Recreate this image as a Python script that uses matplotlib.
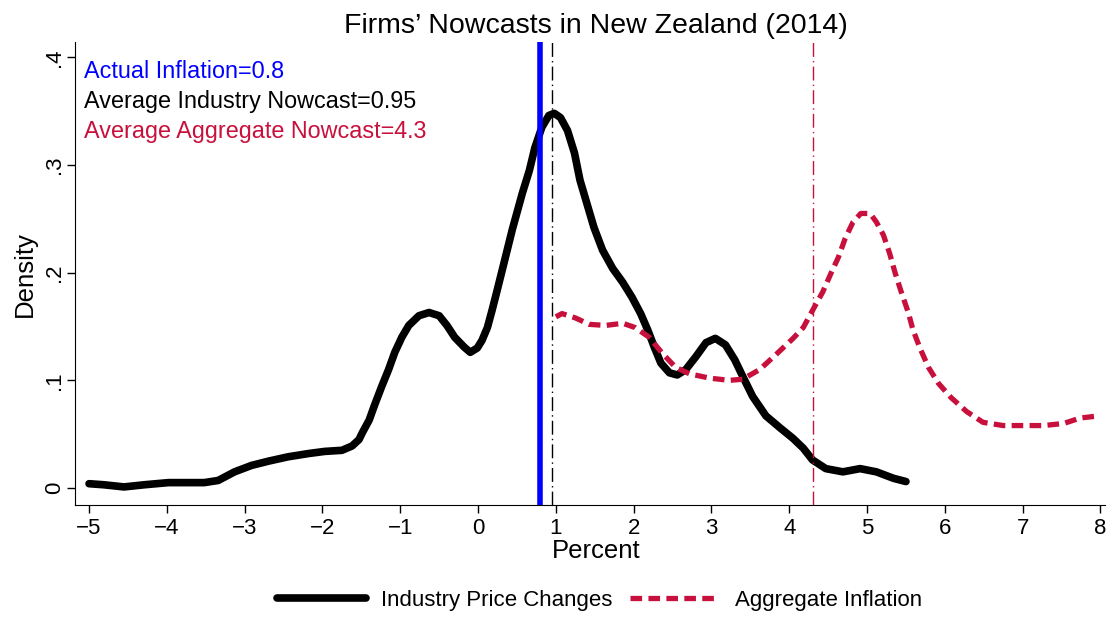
import matplotlib.pyplot as plt
import numpy as np

plt.rcParams['font.family'] = ['Liberation Sans', 'DejaVu Sans']

# kernel density of industry price changes (percent, density)
ind_x = [-5.0, -4.81, -4.55, -4.29, -3.98, -3.72, -3.52, -3.34, -3.13, -2.91, -2.69, -2.44,
         -2.18, -1.97, -1.75, -1.62, -1.53, -1.49, -1.40, -1.33, -1.24, -1.15, -1.07, -0.98,
         -0.89, -0.76, -0.63, -0.50, -0.40, -0.30, -0.18, -0.10, -0.01, 0.05, 0.12, 0.18,
         0.24, 0.33, 0.44, 0.57, 0.66, 0.73, 0.82, 0.91, 0.98, 1.06, 1.15, 1.24, 1.31, 1.40,
         1.49, 1.60, 1.73, 1.86, 1.98, 2.09, 2.18, 2.27, 2.35, 2.46, 2.56, 2.67, 2.80, 2.93,
         3.05, 3.18, 3.30, 3.40, 3.53, 3.70, 3.88, 4.05, 4.18, 4.30, 4.47, 4.69, 4.91, 5.12,
         5.34, 5.50]
ind_y = [0.004, 0.003, 0.001, 0.003, 0.005, 0.005, 0.005, 0.007, 0.015, 0.021, 0.025, 0.029,
         0.032, 0.034, 0.035, 0.039, 0.045, 0.051, 0.063, 0.077, 0.094, 0.110, 0.126, 0.140,
         0.151, 0.160, 0.163, 0.160, 0.151, 0.140, 0.131, 0.126, 0.130, 0.137, 0.149, 0.165,
         0.182, 0.208, 0.240, 0.274, 0.295, 0.316, 0.335, 0.346, 0.348, 0.344, 0.332, 0.311,
         0.286, 0.264, 0.242, 0.221, 0.204, 0.191, 0.177, 0.162, 0.147, 0.130, 0.116, 0.107,
         0.105, 0.110, 0.122, 0.135, 0.139, 0.133, 0.119, 0.104, 0.085, 0.067, 0.056, 0.046,
         0.037, 0.026, 0.018, 0.015, 0.018, 0.015, 0.009, 0.006]

# kernel density of aggregate inflation nowcasts
agg_x = [1.0, 1.08, 1.25, 1.43, 1.64, 1.86, 2.02, 2.20, 2.37, 2.54, 2.72, 2.98, 3.23, 3.40,
         3.62, 3.83, 4.05, 4.18, 4.30, 4.43, 4.54, 4.63, 4.72, 4.82, 4.92, 5.04, 5.12, 5.21,
         5.29, 5.36, 5.44, 5.53, 5.59, 5.68, 5.79, 5.92, 6.08, 6.28, 6.49, 6.75, 7.01, 7.27,
         7.53, 7.74, 7.98]
agg_y = [0.159, 0.162, 0.158, 0.152, 0.151, 0.153, 0.149, 0.140, 0.125, 0.112, 0.106, 0.102,
         0.100, 0.101, 0.110, 0.124, 0.139, 0.149, 0.165, 0.182, 0.200, 0.214, 0.232, 0.247,
         0.255, 0.255, 0.247, 0.235, 0.218, 0.200, 0.182, 0.163, 0.147, 0.130, 0.112, 0.097,
         0.084, 0.071, 0.061, 0.058, 0.058, 0.058, 0.060, 0.065, 0.067]

actual = 0.8
avg_industry = 0.95
avg_aggregate = 4.3

red = '#c8103c'
dashdot = (0, (10, 3, 1, 3))

fig = plt.figure(figsize=(11.1, 6.17), dpi=100)
ax = fig.add_axes([0.0676, 0.1815, 0.928, 0.750])

ax.plot(ind_x, ind_y, color='black', linewidth=5.5, solid_capstyle='round',
        solid_joinstyle='round', label='Industry Price Changes')
ax.plot(agg_x, agg_y, color=red, linewidth=3.8, dashes=(2.2, 1.2),
        label='Aggregate Inflation')

ax.axvline(actual, color='#0000ff', linewidth=4)
ax.axvline(avg_industry, color='black', linewidth=1, linestyle=dashdot)
ax.axvline(avg_aggregate, color=red, linewidth=1, linestyle=dashdot)

ax.text(0.009, 0.937, 'Actual Inflation=%g' % actual, color='#0000ff', fontsize=16.8,
        va='center', transform=ax.transAxes)
ax.text(0.009, 0.872, 'Average Industry Nowcast=%g' % avg_industry, color='black',
        fontsize=16.8, va='center', transform=ax.transAxes)
ax.text(0.009, 0.808, 'Average Aggregate Nowcast=%g' % avg_aggregate, color=red,
        fontsize=16.8, va='center', transform=ax.transAxes)

ax.set_xlim(-5.18, 8.06)
ax.set_ylim(-0.0158, 0.414)
ax.set_xticks(np.arange(-5, 9))
ax.set_xticklabels([('\u2212%d' % -v) if v < 0 else str(v) for v in range(-5, 9)])
ax.set_yticks([0, 0.1, 0.2, 0.3, 0.4])
ax.set_yticklabels(['0', '.1', '.2', '.3', '.4'], rotation=90, va='center')
ax.tick_params(labelsize=16, length=6, width=1)
ax.tick_params(axis='y', pad=1)
ax.spines['top'].set_visible(False)
ax.spines['right'].set_visible(False)

ax.set_xlabel('Percent', fontsize=18.5)
ax.xaxis.set_label_coords(0.506, -0.073)
ax.set_ylabel('Density', fontsize=18.5)
ax.yaxis.set_label_coords(-0.037, 0.5)
ax.set_title('Firms\u2019 Nowcasts in New Zealand (2014)', fontsize=20.5, x=0.506, pad=7)

fig.legend(loc='center', bbox_to_anchor=(0.540, 0.027), ncol=2, frameon=False,
           fontsize=16, handlelength=4.0, handletextpad=0.7, columnspacing=0.8)

fig.savefig('out.png', dpi=100)
